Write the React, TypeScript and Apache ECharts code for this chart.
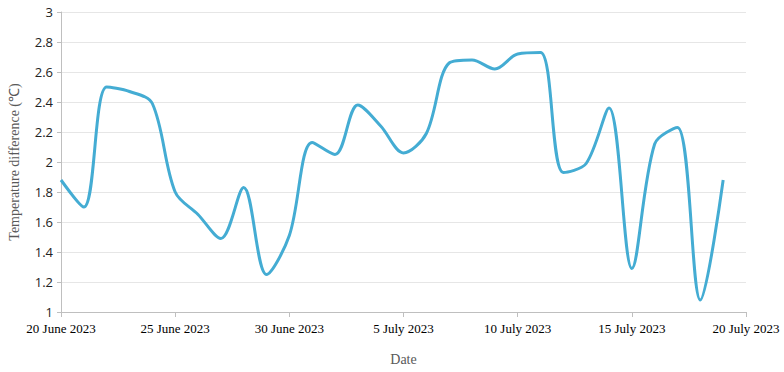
import React, { useEffect, useRef } from "react";
import * as echarts from "echarts";

// Daily dates from 20 June 2023 to 19 July 2023
const dates: string[] = [
  "2023-06-20", "2023-06-21", "2023-06-22", "2023-06-23", "2023-06-24",
  "2023-06-25", "2023-06-26", "2023-06-27", "2023-06-28", "2023-06-29",
  "2023-06-30", "2023-07-01", "2023-07-02", "2023-07-03", "2023-07-04",
  "2023-07-05", "2023-07-06", "2023-07-07", "2023-07-08", "2023-07-09",
  "2023-07-10", "2023-07-11", "2023-07-12", "2023-07-13", "2023-07-14",
  "2023-07-15", "2023-07-16", "2023-07-17", "2023-07-18", "2023-07-19",
];

const tempDiff: number[] = [
  1.88, 1.70, 2.50, 2.47, 2.39,
  1.80, 1.65, 1.49, 1.83, 1.25,
  1.51, 2.13, 2.05, 2.38, 2.24,
  2.06, 2.19, 2.66, 2.68, 2.62,
  2.72, 2.73, 1.93, 1.99, 2.36,
  1.29, 2.12, 2.23, 1.08, 1.88,
];

const xTickLabels: string[] = [
  "20 June 2023", "25 June 2023", "30 June 2023",
  "5 July 2023", "10 July 2023", "15 July 2023", "20 July 2023",
];

const startDate = new Date("2023-06-20T00:00:00Z").getTime();
const DAY = 86400000;

export default function App() {
  const ref = useRef<HTMLDivElement>(null);
  useEffect(() => {
    if (!ref.current) return;
    const chart = echarts.init(ref.current, undefined, { renderer: "svg" });
    const data = dates.map((d, i) => [
      (new Date(d + "T00:00:00Z").getTime() - startDate) / DAY,
      tempDiff[i],
    ]);
    chart.setOption({
      animation: false,
      grid: { left: 61, right: 38, top: 12, bottom: 60, outerBoundsMode: "none", containLabel: false },
      xAxis: {
        type: "value",
        min: 0,
        max: 30,
        interval: 5,
        name: "Date",
        nameLocation: "middle",
        nameGap: 40,
        nameTextStyle: { fontFamily: "Liberation Serif", fontSize: 14, color: "#595959" },
        axisLine: { lineStyle: { color: "#bfbfbf", width: 1 } },
        axisTick: { show: true, length: 5, lineStyle: { color: "#bfbfbf" } },
        axisLabel: {
          fontFamily: "Liberation Serif",
          fontSize: 13,
          color: "#000",
          margin: 10,
          showMaxLabel: true,
          showMinLabel: true,
          hideOverlap: false,
          formatter: (v: number) => xTickLabels[Math.round(v / 5)] ?? "",
        },
        splitLine: { show: false },
      },
      yAxis: {
        type: "value",
        min: 1,
        max: 3,
        interval: 0.2,
        name: "Temperature difference (℃)",
        nameLocation: "middle",
        nameGap: 40,
        nameTextStyle: { fontFamily: "Liberation Serif", fontSize: 14, color: "#595959" },
        axisLine: { show: true, lineStyle: { color: "#bfbfbf", width: 1 } },
        axisTick: { show: true, length: 4, lineStyle: { color: "#bfbfbf" } },
        axisLabel: {
          fontFamily: "Open Sans",
          fontSize: 13,
          color: "#222",
          margin: 8,
          formatter: (v: number) => String(Math.round(v * 10) / 10),
        },
        splitLine: { show: true, lineStyle: { color: "#e6e6e6", width: 1 } },
      },
      series: [
        {
          type: "line",
          data,
          smooth: 0.33,
          showSymbol: false,
          symbol: "none",
          lineStyle: { color: "#44acd3", width: 3 },
        },
      ],
    });
    return () => chart.dispose();
  }, []);
  return <div ref={ref} style={{ width: 784, height: 372, position: "absolute", left: 0, top: 0 }} />;
}
